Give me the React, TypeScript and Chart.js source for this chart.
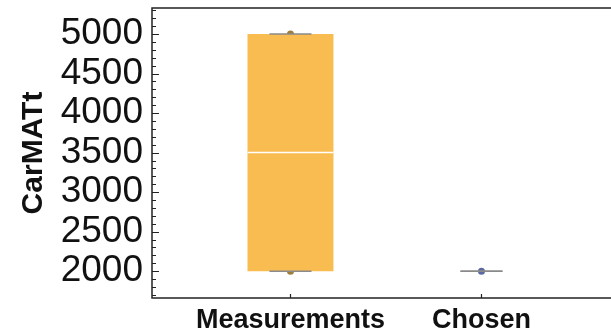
import React, { useEffect, useRef } from "react";
import { Chart, registerables } from "chart.js";
Chart.register(...registerables);

// ---- data ----
const categories = ["Measurements", "Chosen"];
const whiskerLow = [2000, 2000];
const boxLow = [2000, 2000];
const medians = [3500, 2000];
const boxHigh = [5000, 2000];
const whiskerHigh = [5000, 2000];
const pointValues = [[2000, 5000], [2000]];
const yTicks = [2000, 2500, 3000, 3500, 4000, 4500, 5000];
const yMinorStep = 100;
const yMin = 1660;
const yMax = 5330;
const yTitle = "CarMATt";

// ---- styles ----
const boxColors = ["#F9BC50", "#5E81B5"];
const pointColors = ["#9E7E38", "#5B6AA6"];
const FONT = "'Liberation Sans', Arial, sans-serif";
const X_PAD_LEFT = 0.725;
const X_PAD_RIGHT = 0.72;
const BOX_HALF = 0.225;
const CAP_HALF = 0.11;

const extrasPlugin = {
  id: "boxExtras",
  afterDatasetDraw(chart: any, args: any) {
    if (args.index !== 0) return;
    const x = chart.scales.x;
    const y = chart.scales.y;
    const ctx = chart.ctx;
    ctx.save();
    categories.forEach((_, i) => {
      const cx = x.getPixelForValue(i + 1);
      const half = x.getPixelForValue(i + 1 + BOX_HALF) - cx;
      const ch = x.getPixelForValue(i + 1 + CAP_HALF) - cx;
      if (boxHigh[i] > boxLow[i]) {
        const my = y.getPixelForValue(medians[i]);
        ctx.strokeStyle = "#ffffff";
        ctx.lineWidth = 1.5;
        ctx.beginPath();
        ctx.moveTo(cx - half, my);
        ctx.lineTo(cx + half, my);
        ctx.stroke();
      }
      ctx.strokeStyle = "#8a8a8a";
      ctx.lineWidth = 1.5;
      ctx.beginPath();
      ctx.moveTo(cx, y.getPixelForValue(whiskerLow[i]));
      ctx.lineTo(cx, y.getPixelForValue(boxLow[i]));
      ctx.moveTo(cx, y.getPixelForValue(boxHigh[i]));
      ctx.lineTo(cx, y.getPixelForValue(whiskerHigh[i]));
      ctx.stroke();
      [whiskerLow[i], whiskerHigh[i]].forEach((v) => {
        const py = y.getPixelForValue(v);
        ctx.beginPath();
        ctx.moveTo(cx - ch, py);
        ctx.lineTo(cx + ch, py);
        ctx.stroke();
      });
    });
    ctx.restore();
  },
  afterDraw(chart: any) {
    const { ctx, chartArea } = chart;
    const x = chart.scales.x;
    const y = chart.scales.y;
    ctx.save();
    ctx.strokeStyle = "#222222";
    ctx.lineWidth = 1.5;
    ctx.strokeRect(chartArea.left, chartArea.top, chartArea.right - chartArea.left, chartArea.bottom - chartArea.top);
    ctx.lineWidth = 1.2;
    ctx.beginPath();
    const start = Math.ceil(y.min / yMinorStep) * yMinorStep;
    for (let v = start; v <= y.max; v += yMinorStep) {
      const py = Math.round(y.getPixelForValue(v)) + 0.5;
      const len = yTicks.includes(v) ? 7 : 4;
      ctx.moveTo(chartArea.left, py);
      ctx.lineTo(chartArea.left + len, py);
    }
    categories.forEach((_, i) => {
      const px = Math.round(x.getPixelForValue(i + 1)) + 0.5;
      ctx.moveTo(px, chartArea.bottom);
      ctx.lineTo(px, chartArea.bottom - 4);
    });
    ctx.stroke();
    ctx.restore();
  },
};

export default function App() {
  const ref = useRef<HTMLCanvasElement>(null);
  useEffect(() => {
    if (!ref.current) return;
    const chart = new Chart(ref.current, {
      type: "bar",
      data: {
        datasets: [
          {
            type: "bar",
            data: categories.map((_, i) => ({ x: i + 1, y: [boxLow[i], boxHigh[i]] })) as any,
            backgroundColor: boxColors,
            borderWidth: 0,
            barPercentage: 2 * BOX_HALF,
            categoryPercentage: 1,
          },
          {
            type: "scatter",
            data: pointValues.flatMap((vals, i) => vals.map((v) => ({ x: i + 1, y: v }))) as any,
            pointBackgroundColor: pointValues.flatMap((vals, i) => vals.map(() => pointColors[i])),
            pointBorderWidth: 0,
            pointRadius: 3.5,
          },
        ],
      } as any,
      options: {
        animation: false,
        responsive: false,
        layout: { padding: { top: 8, left: 0, right: 0, bottom: 0 } },
        plugins: { legend: { display: false }, tooltip: { enabled: false } },
        scales: {
          x: {
            type: "linear",
            offset: false,
            min: 1 - X_PAD_LEFT,
            max: categories.length + X_PAD_RIGHT,
            grid: { display: false, drawTicks: false },
            border: { display: false },
            afterBuildTicks: (s: any) => {
              s.ticks = categories.map((_, i) => ({ value: i + 1 }));
            },
            afterFit: (s: any) => {
              s.height = 37;
              s.paddingLeft = 0;
              s.paddingRight = 0;
            },
            ticks: {
              autoSkip: false,
              maxRotation: 0,
              padding: 6,
              color: "#111111",
              font: { family: FONT, size: 27, weight: "bold" },
              callback: (v: any) => categories[Math.round(v) - 1] ?? "",
            },
          },
          y: {
            min: yMin,
            max: yMax,
            grid: { display: false, drawTicks: false },
            border: { display: false },
            afterBuildTicks: (s: any) => {
              s.ticks = yTicks.map((v) => ({ value: v }));
            },
            afterFit: (s: any) => {
              s.width = 152;
              s.paddingTop = 0;
              s.paddingBottom = 0;
            },
            ticks: {
              autoSkip: false,
              padding: 9,
              color: "#111111",
              font: { family: FONT, size: 37 },
              callback: (v: any) => String(v),
            },
            title: {
              display: true,
              text: yTitle,
              color: "#111111",
              padding: { top: 16, bottom: 0 },
              font: { family: FONT, size: 30, weight: "bold" },
            },
          },
        },
      } as any,
      plugins: [extrasPlugin],
    });
    return () => chart.destroy();
  }, []);
  return (
    <div style={{ position: "absolute", left: 0, top: 0, width: 611, height: 335, overflow: "hidden", background: "#ffffff" }}>
      <canvas ref={ref} width={623} height={335} style={{ width: 623, height: 335, display: "block" }} />
    </div>
  );
}
